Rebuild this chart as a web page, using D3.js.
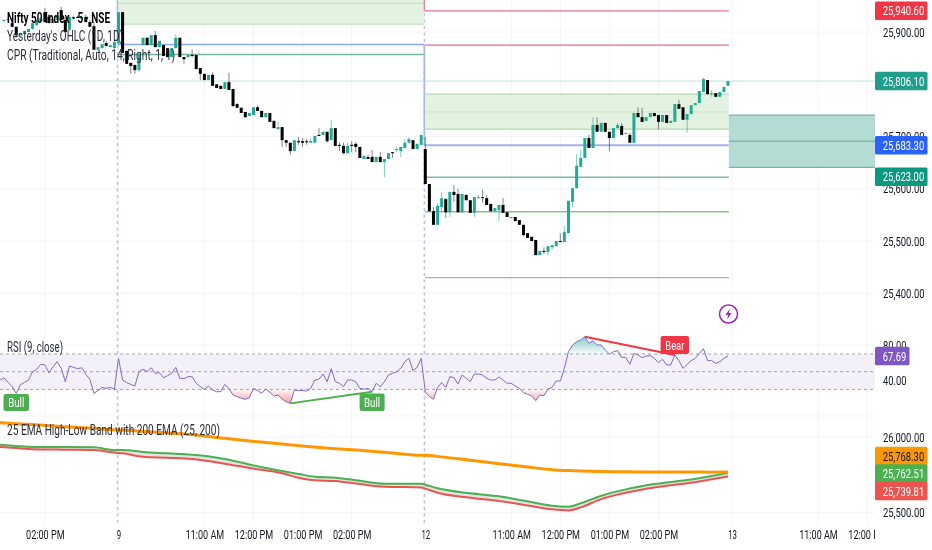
<!DOCTYPE html>
<html>
<head>
<meta charset="utf-8">
<script src="https://d3js.org/d3.v7.min.js"></script>
<style>
html, body { margin: 0; padding: 0; background: #fff; overflow: hidden; }
svg { display: block; filter: blur(0.55px); }
text { font-family: "Liberation Sans Narrow", Roboto, sans-serif; fill: #131722; }
</style>
</head>
<body>
<div id="chart"></div>
<script>
// candles as [open, high, low, close]
var session8 = [
  [25921,25925,25919,25923],[25923,25926,25921,25925],[25917,25921,25908,25910],[25910,25910,25892,25894],
  [25894,25898,25892,25898],[25898,25902,25896,25902],[25900,25906,25900,25906],[25906,25917,25904,25917],
  [25913,25923,25913,25923],[25921,25929,25921,25927],[25938,25946,25919,25919],[25929,25934,25917,25917],
  [25917,25925,25917,25925],[25923,25931,25923,25931],[25942,25948,25923,25923],[25923,25927,25900,25900],
  [25904,25931,25902,25929],[25925,25931,25925,25929],[25929,25931,25927,25927],[25925,25931,25925,25929],
  [25929,25933,25919,25919],[25919,25923,25910,25910],[25911,25919,25866,25866],[25866,25871,25866,25871],
  [25869,25877,25869,25877],[25879,25883,25873,25873],[25871,25875,25871,25875],[25869,25885,25869,25881]
];
var session9 = [
  [25879,25938,25877,25938],[25938,25938,25860,25860],[25864,25864,25839,25839],[25841,25841,25820,25835],
  [25837,25837,25820,25827],[25827,25858,25823,25858],[25875,25889,25875,25889],[25889,25889,25875,25875],
  [25875,25894,25875,25894],[25894,25902,25871,25871],[25871,25883,25871,25883],[25875,25875,25854,25854],
  [25869,25869,25852,25852],[25852,25869,25852,25869],[25869,25896,25869,25889],[25889,25889,25852,25852],
  [25852,25852,25839,25848],[25852,25856,25852,25856],[25856,25867,25852,25854],[25856,25856,25829,25829],
  [25831,25831,25808,25820],[25820,25820,25808,25808],[25808,25818,25808,25818],[25818,25823,25797,25797],
  [25800,25800,25793,25793],[25797,25797,25791,25791],[25791,25804,25791,25804],[25804,25822,25789,25789],
  [25791,25791,25758,25758],[25762,25764,25755,25755],[25755,25755,25745,25745],[25747,25747,25735,25737],
  [25739,25745,25739,25745],[25741,25756,25741,25756],[25756,25760,25749,25749],[25749,25749,25737,25737],
  [25737,25745,25737,25745],[25745,25745,25728,25728],[25730,25730,25716,25716],[25714,25728,25714,25718],
  [25718,25718,25680,25693],[25693,25693,25680,25688],[25688,25688,25665,25672],[25672,25693,25672,25693],
  [25691,25699,25684,25689],[25691,25697,25680,25688],[25691,25695,25684,25689],[25688,25697,25688,25691],
  [25688,25701,25688,25701],[25703,25716,25701,25701],[25703,25709,25703,25709],[25709,25709,25688,25691],
  [25693,25732,25693,25716],[25716,25716,25682,25682],[25684,25689,25672,25682],[25682,25688,25666,25668],
  [25668,25688,25668,25682],[25684,25691,25670,25682],[25686,25689,25670,25680],[25680,25680,25659,25659],
  [25657,25663,25657,25663],[25661,25665,25657,25657],[25661,25674,25651,25651],[25651,25661,25651,25661],
  [25661,25670,25651,25651],[25651,25657,25622,25657],[25657,25668,25657,25668],[25670,25670,25659,25668],
  [25674,25680,25670,25676],[25672,25680,25661,25680],[25678,25695,25678,25688],[25688,25699,25688,25695],
  [25693,25693,25676,25676],[25676,25686,25676,25686],[25684,25703,25684,25703]
];
var session12 = [
  [25676,25699,25609,25609],[25609,25609,25557,25557],[25557,25565,25531,25531],[25531,25573,25531,25567],
  [25565,25594,25555,25582],[25580,25582,25544,25555],[25555,25594,25546,25594],[25594,25607,25575,25588],
  [25590,25600,25555,25555],[25555,25590,25555,25590],[25588,25590,25578,25578],[25578,25578,25554,25554],
  [25554,25584,25546,25584],[25582,25588,25582,25584],[25584,25598,25573,25582],[25582,25588,25569,25569],
  [25571,25571,25557,25557],[25557,25563,25557,25563],[25559,25569,25538,25569],[25569,25582,25554,25554],
  [25555,25555,25546,25546],[25544,25546,25544,25546],[25546,25546,25538,25538],[25540,25540,25531,25531],
  [25531,25531,25511,25511],[25515,25515,25506,25506],[25508,25508,25500,25500],[25502,25502,25473,25473],
  [25473,25481,25473,25481],[25481,25488,25475,25479],[25479,25490,25473,25490],[25488,25492,25483,25492],
  [25490,25500,25490,25500],[25500,25515,25498,25498],[25498,25529,25498,25517],[25515,25577,25515,25577],
  [25575,25601,25565,25601],[25601,25666,25601,25644],[25642,25674,25642,25659],[25659,25697,25659,25697],
  [25697,25703,25678,25678],[25678,25737,25678,25722],[25722,25737,25709,25709],[25709,25726,25709,25726],
  [25726,25726,25709,25709],[25709,25709,25672,25697],[25697,25716,25697,25716],[25716,25726,25716,25722],
  [25720,25726,25703,25703],[25705,25707,25705,25707],[25703,25707,25688,25688],[25688,25745,25688,25745],
  [25745,25756,25737,25737],[25737,25755,25728,25728],[25730,25737,25730,25737],[25737,25745,25737,25745],
  [25745,25745,25739,25739],[25741,25741,25714,25728],[25728,25741,25728,25741],[25741,25741,25726,25726],
  [25726,25730,25726,25730],[25728,25762,25728,25762],[25762,25770,25753,25753],[25756,25756,25732,25732],
  [25732,25743,25707,25743],[25743,25760,25743,25760],[25760,25764,25760,25764],[25764,25787,25764,25787],
  [25785,25812,25785,25810],[25808,25808,25781,25781],[25781,25789,25776,25783],[25783,25783,25776,25776],
  [25776,25785,25776,25785],[25785,25795,25785,25795],[25797,25806,25797,25806]
];

// RSI, first value sits on bar -29
var rsi8 = [40.6,43.2,38,33.1,25.5,35,38,40.6,50,52.7,58.3,57.6,48.9,55.7,61.3,53.8,38.7,56.4,54.9,53.4,54.5,47,41.4,25.5,28.6,32.3,31.2,32.3,30.1];
var rsi9 = [65.1,40.6,37.6,35.7,33.8,50,52.7,50,54.5,48.1,48.9,43.2,45.5,48.1,54.9,42.5,42.1,44.4,44.4,36.9,33.1,30.1,33.8,29.3,27.4,27.4,35.7,31.2,23.7,21.8,19.9,18.8,20.6,31.2,28.6,25.5,30.4,26.7,22.5,23.7,18.8,16.1,14.2,29.3,28.6,28.6,28.2,31.2,40.6,41.4,47.4,38.7,53.4,38.7,36.9,33.1,40.6,40.6,38.7,31.2,30.1,31.2,27.4,36.9,33.1,38.7,46.3,48.1,50,53.8,61.3,65.1,51.2,54.9,65.1];
var rsi12 = [27.4,21.8,18.8,32.3,37.6,32.3,44.4,43.2,36.1,46.3,42.5,38.7,47.4,47.4,46.3,42.5,40.6,40.6,44,40.6,36.9,36.9,33.8,31.2,26.3,24.4,22.5,17.3,23.7,22.9,30.4,32.3,39.5,39.5,53.8,72.6,80.2,83.9,85.8,89.6,82,85,80.2,80.2,74.5,70,72.6,73.8,66.2,66.2,58.3,70.7,68.9,65.8,67.7,68.1,65.1,60.2,64,57.6,57.6,68.9,62.5,53.8,58.3,62.5,65.1,70.7,76,62.5,62.5,59.4,61.3,65.1,67.69];

// EMA band, read at these bars
var emaBars = [-29,-25,-21,-13,-6,-1,1,6,12,18,26,32,40,44,48,53,59,65,74,75,78,86,93,100,106,110,113,118,124,131,139,144,149];
var ema200 = [26095,26088,26082,26068,26057,26048,26046,26037,26026,26015,25991,25974,25954,25943,25934,25923,25912,25899,25879,25879,25872,25846,25824,25802,25784,25778,25775,25772,25770,25769,25769,25768,25768.3];
var emaHigh = [25949,25941,25934,25934,25932,25914,25914,25901,25892,25883,25855,25819,25775,25756,25738,25731,25711,25692,25692,25685,25661,25628,25608,25575,25546,25540,25562,25612,25654,25689,25716,25738,25762.51];
var emaLow = [25934,25927,25919,25916,25914,25897,25892,25870,25863,25855,25824,25795,25760,25731,25714,25709,25689,25672,25667,25659,25632,25599,25577,25548,25522,25515,25535,25590,25632,25667,25694,25716,25739.81];

// yesterday's OHLC + CPR levels
var bandDay9 = [25955, 25915];
var boxDay9 = 25876;
var pivotDay9 = 25857;
var redDay12 = [25940.6, 25875];
var bandDay12 = [25781, 25747, 25714];
var blueDay12 = 25683.3;
var greenDay12 = [25622, 25556, 25430];
var rightBox = [25741, 25691, 25641];
var lastPrice = 25806.1;

var priceTicks = [25900, 25700, 25600, 25500, 25400];
var rsiTicks = [80, 40];
var rsiLevels = [70, 50, 30];
var emaTicks = [26000, 25500];
var timeBars = [-18, 0, 21, 33, 45, 57, 75, 96, 108, 120, 132, 150, 171, 183];
var timeLabels = ["02:00 PM","9","11:00 AM","12:00 PM","01:00 PM","02:00 PM","12","11:00 AM","12:00 PM","01:00 PM","02:00 PM","13","11:00 AM","12:00 PM"];
var priceTags = [25940.6, 25806.1, 25683.3, 25623];
var emaTags = [25768.3, 25762.51, 25739.81];
var rsiTag = 67.69;

var width = 932, height = 550, plotRight = 875;
var green = "#22ab94", black = "#000";
var labelFont = '"Liberation Sans Narrow", Roboto, sans-serif';

var x = d3.scaleLinear().domain([0, 75]).range([118.5, 425.3]);
var yPrice = d3.scaleLinear().domain([25900, 25500]).range([32, 241]);
var yRsi = d3.scaleLinear().domain([70, 30]).range([354, 389.4]);
var yEma = d3.scaleLinear().domain([26000, 25500]).range([437, 512.7]);

var svg = d3.select("#chart").append("svg").attr("width", width).attr("height", height);
var defs = svg.append("defs");
defs.append("clipPath").attr("id", "plot").append("rect")
  .attr("x", 0).attr("y", 0).attr("width", plotRight).attr("height", height);

function fade(id, c, from, to) {
  var g = defs.append("linearGradient").attr("id", id).attr("gradientUnits", "userSpaceOnUse")
    .attr("x1", 0).attr("x2", 0).attr("y1", from).attr("y2", to);
  g.append("stop").attr("offset", 0).attr("stop-color", c).attr("stop-opacity", 0.03);
  g.append("stop").attr("offset", 1).attr("stop-color", c).attr("stop-opacity", 0.5);
}
fade("fadeBull", "#f23645", yRsi(30), yRsi(14));
fade("fadeBear", "#089981", yRsi(70), yRsi(90));

var plot = svg.append("g").attr("clip-path", "url(#plot)");

// faint grid
var grid = plot.append("g").attr("stroke", "#f3f4f6").attr("stroke-width", 1);
grid.selectAll("line.v").data(timeBars).enter().append("line")
  .attr("x1", function(d) { return x(d); }).attr("x2", function(d) { return x(d); })
  .attr("y1", 0).attr("y2", 525);
var gridRows = [yPrice(25900), yPrice(25700), yPrice(25600), yPrice(25500), yPrice(25400), yRsi(80), yRsi(40), yRsi(0), yEma(26000), yEma(25500)];
grid.selectAll("line.h").data(gridRows).enter().append("line")
  .attr("x1", 0).attr("x2", plotRight)
  .attr("y1", function(d) { return d; }).attr("y2", function(d) { return d; });

// last price line
plot.append("line").attr("x1", 0).attr("x2", plotRight)
  .attr("y1", yPrice(lastPrice)).attr("y2", yPrice(lastPrice))
  .attr("stroke", "#bfe3dc").attr("stroke-width", 1);

// session breaks
plot.selectAll("line.sess").data([0, 75]).enter().append("line")
  .attr("x1", function(d) { return x(d) - 1; }).attr("x2", function(d) { return x(d) - 1; })
  .attr("y1", 0).attr("y2", 525)
  .attr("stroke", "#b8c0ea").attr("stroke-width", 1.4).attr("stroke-dasharray", "3,3.5");

function level(price, a, b, color, w) {
  plot.append("line").attr("x1", x(a)).attr("x2", x(b))
    .attr("y1", yPrice(price)).attr("y2", yPrice(price))
    .attr("stroke", color).attr("stroke-width", w);
}
function band(top, bottom, a, b) {
  plot.append("rect").attr("x", x(a)).attr("width", x(b) - x(a))
    .attr("y", yPrice(top)).attr("height", yPrice(bottom) - yPrice(top))
    .attr("fill", "#e4f2e2");
}

// day 9 levels
plot.append("rect").attr("x", x(0) - 1).attr("width", x(75) - x(0)).attr("y", 0)
  .attr("height", yPrice(bandDay9[1])).attr("fill", "#e4f2e2");
level(bandDay9[0], -0.25, 74.75, "#b9dab5", 1);
level(bandDay9[1], -0.25, 74.75, "#b9dab5", 1);
level(boxDay9, -0.25, 74.75, "#8fa8ee", 1.5);
level(pivotDay9, -0.25, 74.75, "#74b79f", 1.5);
plot.append("line").attr("x1", x(0) - 1).attr("x2", x(0) - 1).attr("y1", 0).attr("y2", yPrice(boxDay9))
  .attr("stroke", "#a9b8ef").attr("stroke-width", 1.4);
plot.append("line").attr("x1", x(75) - 1).attr("x2", x(75) - 1)
  .attr("y1", yPrice(boxDay9)).attr("y2", yPrice(blueDay12))
  .attr("stroke", "#a4b6f0").attr("stroke-width", 1.5);
plot.append("line").attr("x1", x(75) - 1).attr("x2", x(75) - 1)
  .attr("y1", 0).attr("y2", yPrice(redDay12[0]))
  .attr("stroke", "#e77d92").attr("stroke-width", 1.2);

// day 12 levels
band(bandDay12[0], bandDay12[2], 75, 149.2);
level(redDay12[0], 74.75, 149.2, "#e27494", 1.2);
level(redDay12[1], 75, 149.2, "#dc6d96", 1.2);
level(bandDay12[0], 75, 149.2, "#b4d9ae", 1.2);
level(bandDay12[1], 75, 149.2, "#cfe6cb", 1);
level(bandDay12[2], 75, 149.2, "#b4d9ae", 1.2);
level(blueDay12, 74.75, 149.2, "#a3b1ea", 2);
level(greenDay12[0], 75, 149.2, "#7dbba3", 1.4);
level(greenDay12[1], 75, 149.2, "#8cc28c", 1.4);
level(greenDay12[2], 75, 149.2, "#8cc28c", 1.2);

// box on the right
plot.append("rect").attr("x", x(149.2)).attr("width", plotRight - x(149.2))
  .attr("y", yPrice(rightBox[0])).attr("height", yPrice(rightBox[2]) - yPrice(rightBox[0]))
  .attr("fill", "#b4dcd5");
rightBox.forEach(function(p) {
  plot.append("line").attr("x1", x(149.2)).attr("x2", plotRight)
    .attr("y1", yPrice(p)).attr("y2", yPrice(p))
    .attr("stroke", "#5ba89b").attr("stroke-width", 1);
});

// candles
var bars = [];
session8.forEach(function(c, i) { bars.push({ i: i - 28, c: c }); });
session9.forEach(function(c, i) { bars.push({ i: i, c: c }); });
session12.forEach(function(c, i) { bars.push({ i: i + 75, c: c }); });

var candle = plot.selectAll("g.candle").data(bars).enter().append("g");
candle.append("line")
  .attr("x1", function(d) { return x(d.i); }).attr("x2", function(d) { return x(d.i); })
  .attr("y1", function(d) { return yPrice(d.c[1]); }).attr("y2", function(d) { return yPrice(d.c[2]); })
  .attr("stroke", function(d) { return d.c[3] >= d.c[0] ? green : "#333"; })
  .attr("stroke-opacity", 0.6).attr("stroke-width", 1);
candle.append("rect")
  .attr("x", function(d) { return x(d.i) - 1.5; }).attr("width", 3)
  .attr("y", function(d) { return yPrice(Math.max(d.c[0], d.c[3])); })
  .attr("height", function(d) { return Math.max(1, Math.abs(yPrice(d.c[0]) - yPrice(d.c[3]))); })
  .attr("fill", function(d) { return d.c[3] >= d.c[0] ? green : black; });

// flash icon
var flash = svg.append("g").attr("transform", "translate(728.5,314)");
flash.append("circle").attr("r", 9).attr("fill", "#fff").attr("stroke", "#9c27b0").attr("stroke-width", 1.5);
flash.append("path").attr("d", "M1.5,-5.5 L-3,1 L-0.3,1 L-1.5,5.5 L3,-1 L0.3,-1 Z").attr("fill", "#9c27b0");

// RSI pane
var rsiData = [];
rsi8.forEach(function(v, i) { rsiData.push({ i: i - 29, v: v }); });
rsi9.forEach(function(v, i) { rsiData.push({ i: i, v: v }); });
rsi12.forEach(function(v, i) { rsiData.push({ i: i + 75, v: v }); });

plot.append("rect").attr("x", 0).attr("width", plotRight)
  .attr("y", yRsi(70)).attr("height", yRsi(30) - yRsi(70)).attr("fill", "#f3f0f9");
plot.selectAll("line.rsi").data(rsiLevels).enter().append("line")
  .attr("x1", 0).attr("x2", plotRight)
  .attr("y1", function(d) { return yRsi(d); }).attr("y2", function(d) { return yRsi(d); })
  .attr("stroke", "#a3a3ae").attr("stroke-width", 1).attr("stroke-dasharray", "3,3");

plot.append("path").datum(rsiData)
  .attr("fill", "url(#fadeBull)")
  .attr("d", d3.area().x(function(d) { return x(d.i); })
    .y0(yRsi(30)).y1(function(d) { return yRsi(Math.min(d.v, 30)); }));
plot.append("path").datum(rsiData)
  .attr("fill", "url(#fadeBear)")
  .attr("d", d3.area().x(function(d) { return x(d.i); })
    .y0(yRsi(70)).y1(function(d) { return yRsi(Math.max(d.v, 70)); }));
plot.append("path").datum(rsiData)
  .attr("fill", "none").attr("stroke", "#7e6cc4").attr("stroke-width", 1)
  .attr("d", d3.line().x(function(d) { return x(d.i); }).y(function(d) { return yRsi(d.v); }));

// divergences
var bullLine = [{ i: 42, v: 14.2 }, { i: 62, v: 27.4 }];
var bearLine = [{ i: 114, v: 89.6 }, { i: 136, v: 68.9 }];
var divLine = d3.line().x(function(d) { return x(d.i); }).y(function(d) { return yRsi(d.v); });
plot.append("path").datum(bullLine).attr("fill", "none").attr("stroke", "#4caf50").attr("stroke-width", 2).attr("d", divLine);
plot.append("path").datum(bearLine).attr("fill", "none").attr("stroke", "#f23645").attr("stroke-width", 2).attr("d", divLine);

function tag(cx, top, w, h, color, label, lw) {
  svg.append("rect").attr("x", cx - w / 2).attr("y", top).attr("width", w).attr("height", h)
    .attr("rx", 2).attr("fill", color);
  svg.append("text").attr("x", cx).attr("y", top + h / 2 + 4.5).attr("text-anchor", "middle")
    .attr("font-size", 13).style("fill", "#fff")
    .attr("textLength", lw).attr("lengthAdjust", "spacingAndGlyphs").text(label);
}
tag(x(-25), 394, 25.5, 17, "#4caf50", "Bull", 16);
tag(x(62), 393.5, 25, 17.5, "#4caf50", "Bull", 16);
tag(x(136), 336, 28.5, 18, "#f23645", "Bear", 19);

// EMA pane
var emaData = emaBars.map(function(b, k) {
  return { i: b, o: ema200[k], h: emaHigh[k], l: emaLow[k] };
});
function emaLine(key) {
  return d3.line().curve(d3.curveMonotoneX).x(function(d) { return x(d.i); }).y(function(d) { return yEma(d[key]); });
}
plot.append("path").datum(emaData).attr("fill", "#dfe5e2")
  .attr("d", d3.area().curve(d3.curveMonotoneX).x(function(d) { return x(d.i); })
    .y0(function(d) { return yEma(d.h); }).y1(function(d) { return yEma(d.l); }));
plot.append("path").datum(emaData).attr("fill", "none").attr("stroke", "#ef5350").attr("stroke-width", 2).attr("d", emaLine("l"));
plot.append("path").datum(emaData).attr("fill", "none").attr("stroke", "#4caf50").attr("stroke-width", 2).attr("d", emaLine("h"));
plot.append("path").datum(emaData).attr("fill", "none").attr("stroke", "#ff9800").attr("stroke-width", 3).attr("d", emaLine("o"));

// axes
var fmt = d3.format(",.2f");
function styleAxis(g, len) {
  g.select(".domain").remove();
  g.selectAll(".tick line").remove();
  g.selectAll("text").style("font-family", labelFont).attr("font-size", 13)
    .attr("textLength", len).attr("lengthAdjust", "spacingAndGlyphs");
}
function priceAxis(scale, ticks, len) {
  var g = svg.append("g").attr("transform", "translate(883,0)")
    .call(d3.axisRight(scale).tickValues(ticks).tickFormat(fmt).tickSize(0).tickPadding(0));
  styleAxis(g, len);
}
priceAxis(yPrice, priceTicks, 41.5);
priceAxis(yRsi, rsiTicks, 23.5);
priceAxis(yEma, emaTicks, 41.5);

var timeAxis = svg.append("g").attr("clip-path", "url(#plot)").append("g")
  .attr("transform", "translate(0,530)")
  .call(d3.axisBottom(x).tickValues(timeBars)
    .tickFormat(function(d, k) { return timeLabels[k]; }).tickSize(0).tickPadding(0));
timeAxis.select(".domain").remove();
timeAxis.selectAll("text").style("font-family", labelFont).attr("font-size", 13)
  .attr("lengthAdjust", "spacingAndGlyphs")
  .attr("textLength", function(d, k) { return timeLabels[k].length > 2 ? 38.5 : timeLabels[k].length * 4.4; });

// price tags on the right
function priceTag(cy, w, color, label, textColor, len) {
  svg.append("rect").attr("x", plotRight).attr("y", cy - 9.3).attr("width", w).attr("height", 18.6)
    .attr("rx", 1.5).attr("fill", color);
  svg.append("text").attr("x", plotRight + 7.7).attr("y", cy + 4.7).attr("font-size", 13)
    .style("fill", textColor).attr("textLength", len).attr("lengthAdjust", "spacingAndGlyphs").text(label);
}
var tagColors = ["#f23645", "#1f9e8b", "#2962ff", "#089981"];
priceTags.forEach(function(p, k) {
  priceTag(yPrice(p), 52.5, tagColors[k], fmt(p), "#fff", 41.5);
});
priceTag(yRsi(rsiTag), 34.5, "#7e57c2", rsiTag.toFixed(2), "#fff", 23.5);
var emaTagY = [456, 473.5, 491];
var emaColors = ["#ff9800", "#4caf50", "#ef5350"];
emaTags.forEach(function(p, k) {
  priceTag(emaTagY[k], 52.5, emaColors[k], fmt(p), k == 0 ? "#131722" : "#fff", 41.5);
});

// legends, drawn over the candles
var legendTexts = ["Nifty 50 Index · 5 · NSE", "Yesterday's OHLC (1D, 1D)", "CPR (Traditional, Auto, 14, Right, 1, 1)", "RSI (9, close)", "25 EMA High-Low Band with 200 EMA (25, 200)"];
var legendY = [22.5, 41, 59.5, 351.5, 434.5];
var legendW = [103, 116, 168, 56, 213];
svg.selectAll("text.legend").data(legendTexts).enter().append("text")
  .attr("x", 7).attr("y", function(d, k) { return legendY[k]; })
  .attr("font-size", 14).attr("font-weight", function(d, k) { return k == 0 ? 700 : 400; })
  .style("fill", function(d, k) { return k == 0 ? "#000" : "#2a2e39"; })
  .attr("textLength", function(d, k) { return legendW[k]; }).attr("lengthAdjust", "spacingAndGlyphs")
  .text(function(d) { return d; });
</script>
</body>
</html>
